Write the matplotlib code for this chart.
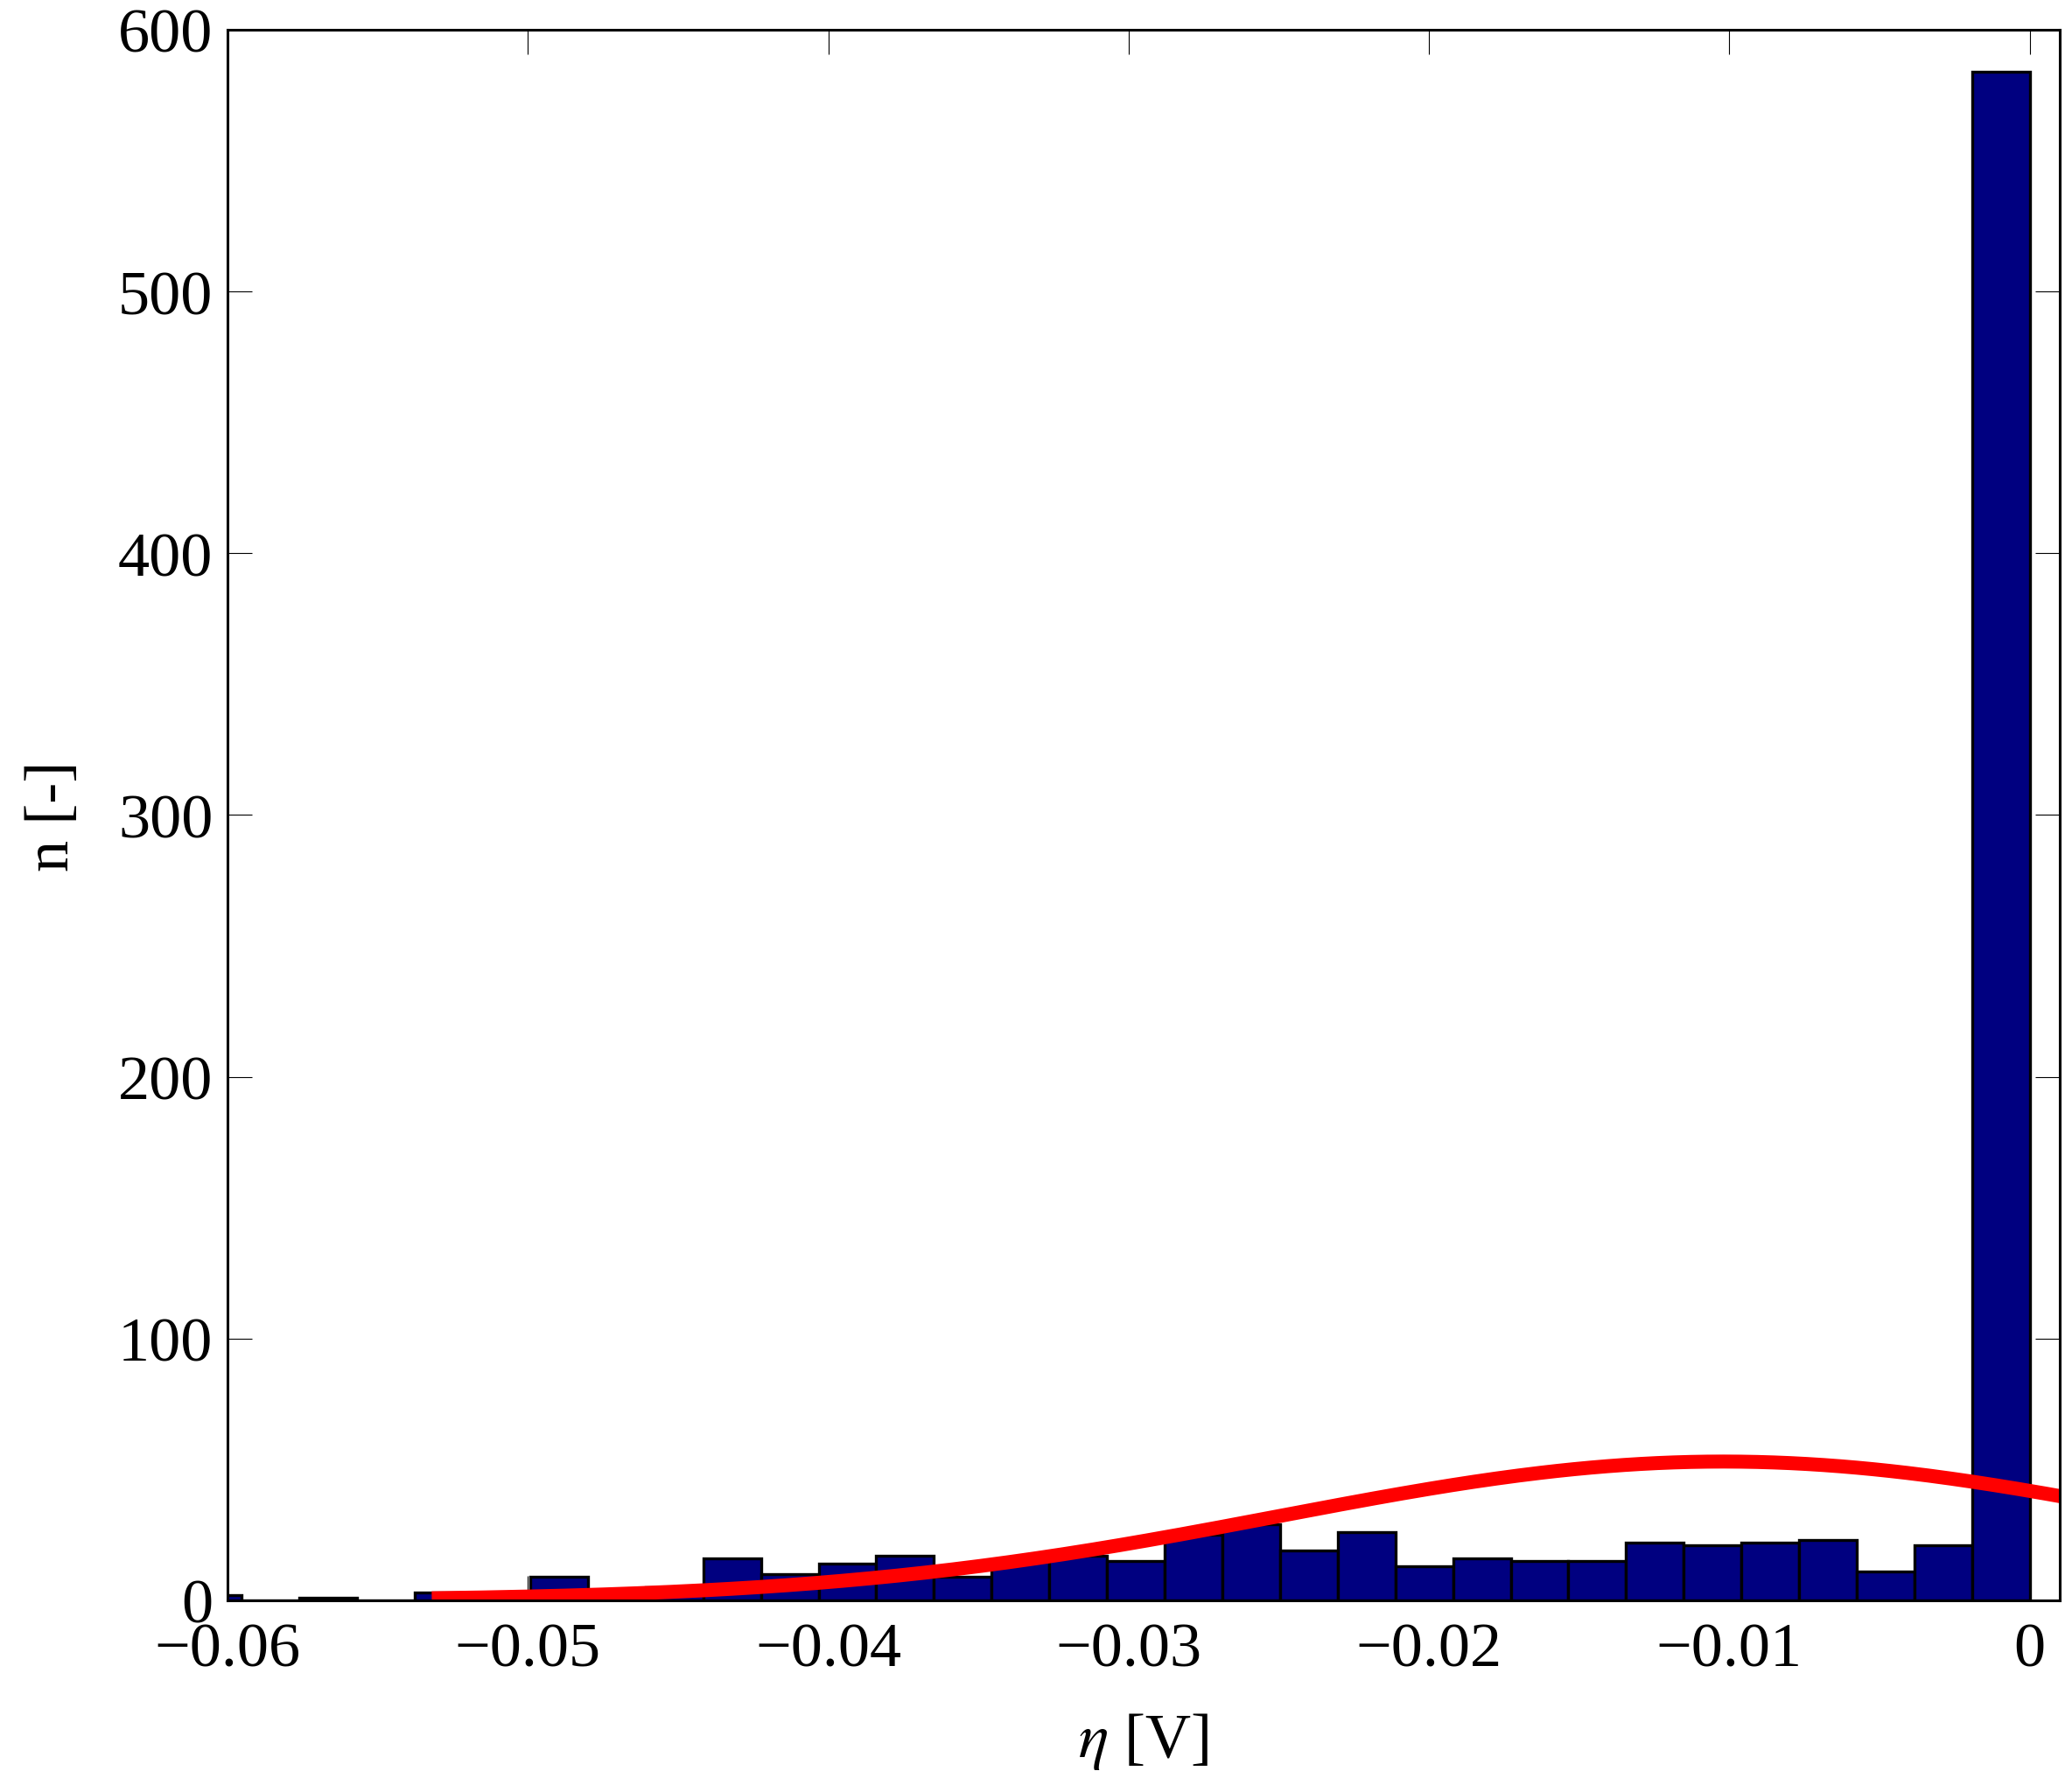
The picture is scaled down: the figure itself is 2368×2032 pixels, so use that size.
"""
Histogram of the overpotential eta with a gauss fit on top
"""

import numpy as np
import matplotlib
matplotlib.use("Agg")
import matplotlib.pyplot as plt

# histogram data (32 bins, last bin ends at 0 V)
bin_width = 0.00192 # [V]
n_bins = 32
counts = [2, 0, 1, 0, 3, 3, 9, 4, 5, 16, 10, 14, 17, 9, 15, 17,
          15, 25, 29, 19, 26, 13, 16, 15, 15, 22, 21, 22, 23, 11, 21, 584]

# gauss fit parameters (amplitude [-], mean [V], std [V]) and its domain
fit_amp = 53.0
fit_mu = -0.0102
fit_sigma = 0.0148
fit_domain = (-0.0532, 0.002)

x_ticks = [-0.06, -0.05, -0.04, -0.03, -0.02, -0.01, 0]
x_ticklabels = ["\u22120.06", "\u22120.05", "\u22120.04", "\u22120.03",
                "\u22120.02", "\u22120.01", "0"]
y_ticks = [0, 100, 200, 300, 400, 500, 600]

plt.rcParams["font.family"] = ["Liberation Serif", "DejaVu Serif"]
plt.rcParams["mathtext.fontset"] = "stix"

fig = plt.figure(figsize=(23.68, 20.33), dpi=100)
ax = fig.add_axes([0.1098, 0.0999, 0.8843, 0.8829])

# left bin edges
edges = -bin_width * n_bins + bin_width * np.arange(n_bins)
ax.bar(edges, counts, width=bin_width, align="edge",
       color="#000080", edgecolor="black", linewidth=2.4, zorder=2)

# gauss curve from the fit parameters
x_fit = np.linspace(fit_domain[0], fit_domain[1], 300)
y_fit = fit_amp * np.exp(-(x_fit - fit_mu)**2 / (2 * fit_sigma**2))
ax.plot(x_fit, y_fit, color="red", linewidth=11.5, zorder=3,
        solid_capstyle="butt")

ax.set_xlim(-0.06, 0.001)
ax.set_ylim(0, 600)
ax.set_xticks(x_ticks)
ax.set_xticklabels(x_ticklabels)
ax.set_yticks(y_ticks)

ax.tick_params(direction="in", top=True, right=True, length=20,
               width=0.8, labelsize=52)
ax.tick_params(axis="x", pad=18)
ax.tick_params(axis="y", pad=12)
for s in ax.spines.values():
    s.set_linewidth(2.2)
    s.set_zorder(4)

ax.set_xlabel(r"$\eta$ [V]", fontsize=52, labelpad=26)
ax.set_ylabel("n [-]", fontsize=52, labelpad=30)

fig.savefig("out.png", dpi=100)
